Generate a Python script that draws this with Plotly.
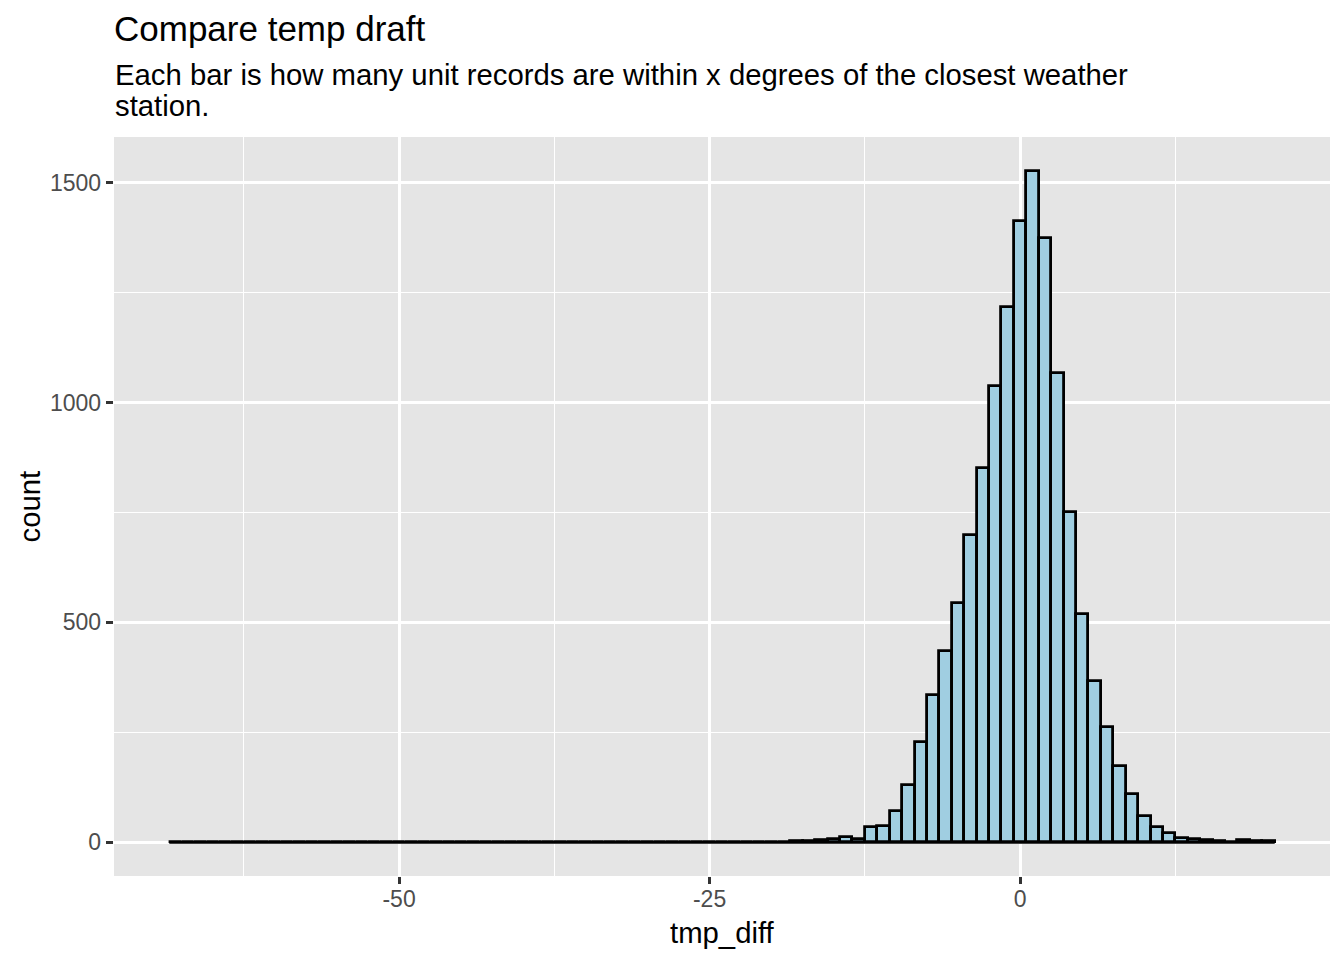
import plotly.graph_objects as go

# Histogram bins (width 1), centres from -68 to 20
bin_centers = list(range(-68, 21))
counts = ([2] + [0] * 44 +
          [0, 1, 1, 2, 2, 3, 4, 6, 8, 12, 7, 34, 37, 72, 131, 228, 334, 435, 545,
           699, 850, 1038, 1217, 1413, 1527, 1374, 1068, 750, 520, 366, 263, 174,
           110, 60, 35, 21, 10, 8, 6, 3, 2, 5, 4, 3])
bin_width = 1

x_ticks = [-50, -25, 0]
y_ticks = [0, 500, 1000, 1500]

title_text = "Compare temp draft"
subtitle_lines = ["Each bar is how many unit records are within x degrees of the closest weather",
                  "station."]
x_title = "tmp_diff"
y_title = "count"

FONT = "Liberation Sans, Arial, Helvetica, sans-serif"

# page body has an 8px margin; compensate so the figure fills the window
OFF = 8
W, H = 1344 - OFF, 960 - OFF

# ggplot-like expansion of 5%
x_lo = bin_centers[0] - bin_width / 2
x_hi = bin_centers[-1] + bin_width / 2
x_pad = (x_hi - x_lo) * 0.05
y_hi = max(counts)
y_pad = y_hi * 0.05

fig = go.Figure()
fig.add_trace(go.Bar(
    x=bin_centers, y=counts, width=bin_width,
    marker=dict(color="#A0CEE1", line=dict(color="black", width=2.8)),
    hoverinfo="x+y", showlegend=False,
))
# outline of zero-height bins along the baseline
fig.add_trace(go.Scatter(
    x=[x_lo, x_hi], y=[0, 0], mode="lines",
    line=dict(color="black", width=2.8), hoverinfo="skip", showlegend=False,
))

axis_common = dict(
    showgrid=True, gridcolor="white", gridwidth=2.8,
    zeroline=False, showline=False,
    ticks="outside", ticklen=7.3, tickwidth=2.5, tickcolor="#333333",
    tickfont=dict(family=FONT, size=23, color="#4D4D4D"),
)

fig.update_layout(
    width=W, height=H, autosize=False,
    margin=dict(l=114 - OFF, r=14, t=137 - OFF, b=84),
    paper_bgcolor="white", plot_bgcolor="#E5E5E5",
    bargap=0,
    font=dict(family=FONT, color="black"),
    title=dict(text=title_text, font=dict(family=FONT, size=35, color="black"),
               xref="paper", x=0, xanchor="left",
               yref="container", y=1 - (29 - OFF) / H, yanchor="middle"),
    xaxis=dict(range=[x_lo - x_pad, x_hi + x_pad], tickvals=x_ticks,
               ticktext=[str(v) for v in x_ticks], ticklabelstandoff=-5,
               minor=dict(dtick=12.5, tick0=0, showgrid=True, gridcolor="white",
                          gridwidth=1.4, ticks=""),
               **axis_common),
    yaxis=dict(range=[-y_pad, y_hi + y_pad], tickvals=y_ticks,
               ticktext=[str(v) for v in y_ticks],
               minor=dict(dtick=250, tick0=0, showgrid=True, gridcolor="white",
                          gridwidth=1.4, ticks=""),
               **axis_common),
)

annotations = []
for i, line in enumerate(subtitle_lines):
    annotations.append(dict(
        text=line, xref="paper", yref="paper", x=0, y=1,
        xanchor="left", yanchor="middle", yshift=(137 - 74) - 31 * i,
        xshift=-1,
        showarrow=False, font=dict(family=FONT, size=29.3, color="black"),
    ))
annotations.append(dict(
    text=x_title, xref="paper", yref="paper", x=0.5, y=0,
    xanchor="center", yanchor="middle", yshift=-(932 - 876),
    showarrow=False, font=dict(family=FONT, size=29.3, color="black"),
))
annotations.append(dict(
    text=y_title, xref="paper", yref="paper", x=0, y=0.5, textangle=-90,
    xanchor="center", yanchor="middle", xshift=-(114 - 29),
    showarrow=False, font=dict(family=FONT, size=29.3, color="black"),
))
fig.update_layout(annotations=annotations)

fig.write_html("out.html")
